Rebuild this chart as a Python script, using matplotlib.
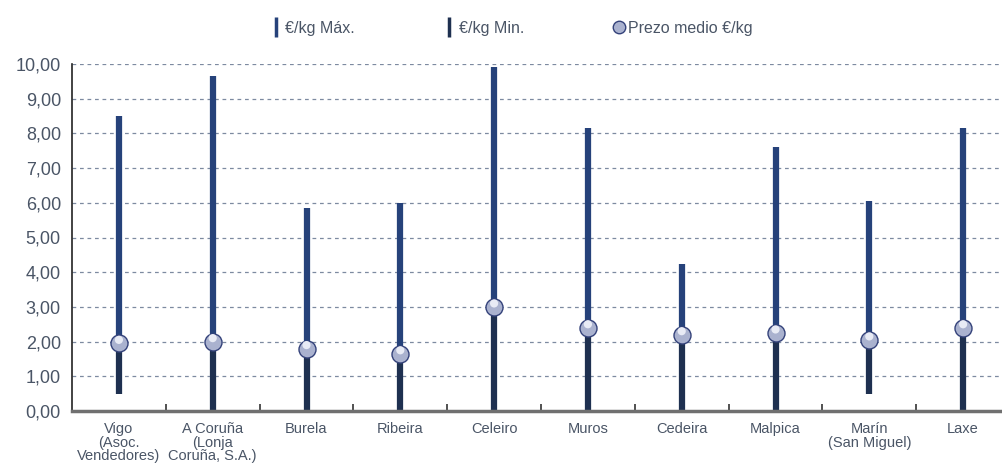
import matplotlib.pyplot as plt
from matplotlib.lines import Line2D

plt.rcParams['font.family'] = ['Liberation Sans Narrow', 'Liberation Sans', 'DejaVu Sans']

# Datos: prezos por lonxa
lonxas = ['Vigo\n(Asoc.\nVendedores)', 'A Coruña\n(Lonja\nCoruña, S.A.)', 'Burela', 'Ribeira',
          'Celeiro', 'Muros', 'Cedeira', 'Malpica', 'Marín\n(San Miguel)', 'Laxe']
prezo_max = [8.50, 9.65, 5.85, 6.00, 9.90, 8.15, 4.25, 7.60, 6.05, 8.15]
prezo_min = [0.50, 0.00, 0.00, 0.00, 0.00, 0.00, 0.00, 0.00, 0.50, 0.00]
prezo_medio = [1.95, 2.00, 1.80, 1.65, 3.00, 2.40, 2.20, 2.25, 2.05, 2.40]
yticks = [0, 1, 2, 3, 4, 5, 6, 7, 8, 9, 10]

cor_max = '#26427a'
cor_min = '#1e3050'
cor_texto = '#4a5566'

fig = plt.figure(figsize=(10.02, 4.75), dpi=100)
ax = fig.add_axes([72 / 1002, 64 / 475, (1010 - 72) / 1002, 347 / 475])

x = list(range(len(lonxas)))

# grella
for v in yticks[1:]:
    ax.axhline(v, color='#7d8aa0', lw=0.9, ls=(0, (3, 3)), zorder=1)

ax.vlines(x, prezo_medio, prezo_max, color=cor_max, lw=4.5, zorder=2)
ax.vlines(x, prezo_min, prezo_medio, color=cor_min, lw=4.5, zorder=2)
ax.scatter(x, prezo_medio, s=150, color='#aab2cf', edgecolor='#34427a', linewidth=1.0, zorder=3)
ax.scatter(x, [p + 0.1 for p in prezo_medio], s=35, color='#e8ebf5', edgecolor='none', zorder=4)

ax.set_xlim(-0.5, 9.5)
ax.set_ylim(0, 10)
ax.set_yticks(yticks)
ax.set_yticklabels([f'{v:.2f}'.replace('.', ',') for v in yticks], fontsize=13, color=cor_texto)
ax.set_xticks(x)
ax.set_xticklabels(lonxas, fontsize=10.5, color=cor_texto, linespacing=0.95)
ax.set_xticks([i + 0.5 for i in x[:-1]], minor=True)
ax.tick_params(axis='x', which='major', length=0, pad=8)
ax.tick_params(axis='x', which='minor', length=5, direction='in', color='#333333', width=1.2)
ax.tick_params(axis='y', length=0, pad=8)

ax.spines['top'].set_visible(False)
ax.spines['right'].set_visible(False)
ax.spines['left'].set_color('#222222')
ax.spines['left'].set_linewidth(1.2)
ax.spines['bottom'].set_color('#707070')
ax.spines['bottom'].set_linewidth(2.5)

handles = [
    Line2D([], [], color=cor_max, marker='|', ls='none', markersize=14, markeredgewidth=2.5),
    Line2D([], [], color=cor_min, marker='|', ls='none', markersize=14, markeredgewidth=2.5),
    Line2D([], [], color='#aab2cf', marker='o', ls='none', markersize=9,
           markeredgecolor='#34427a', markeredgewidth=1.0),
]
fig.legend(handles, ['€/kg Máx.', '€/kg Min.', 'Prezo medio €/kg'], ncol=3, frameon=False,
           loc='center', bbox_to_anchor=(512 / 1002, 1 - 28 / 475), fontsize=11.5,
           handlelength=0.6, handletextpad=0.3, columnspacing=5.6, labelcolor=cor_texto)

fig.savefig('out.png', dpi=100)
